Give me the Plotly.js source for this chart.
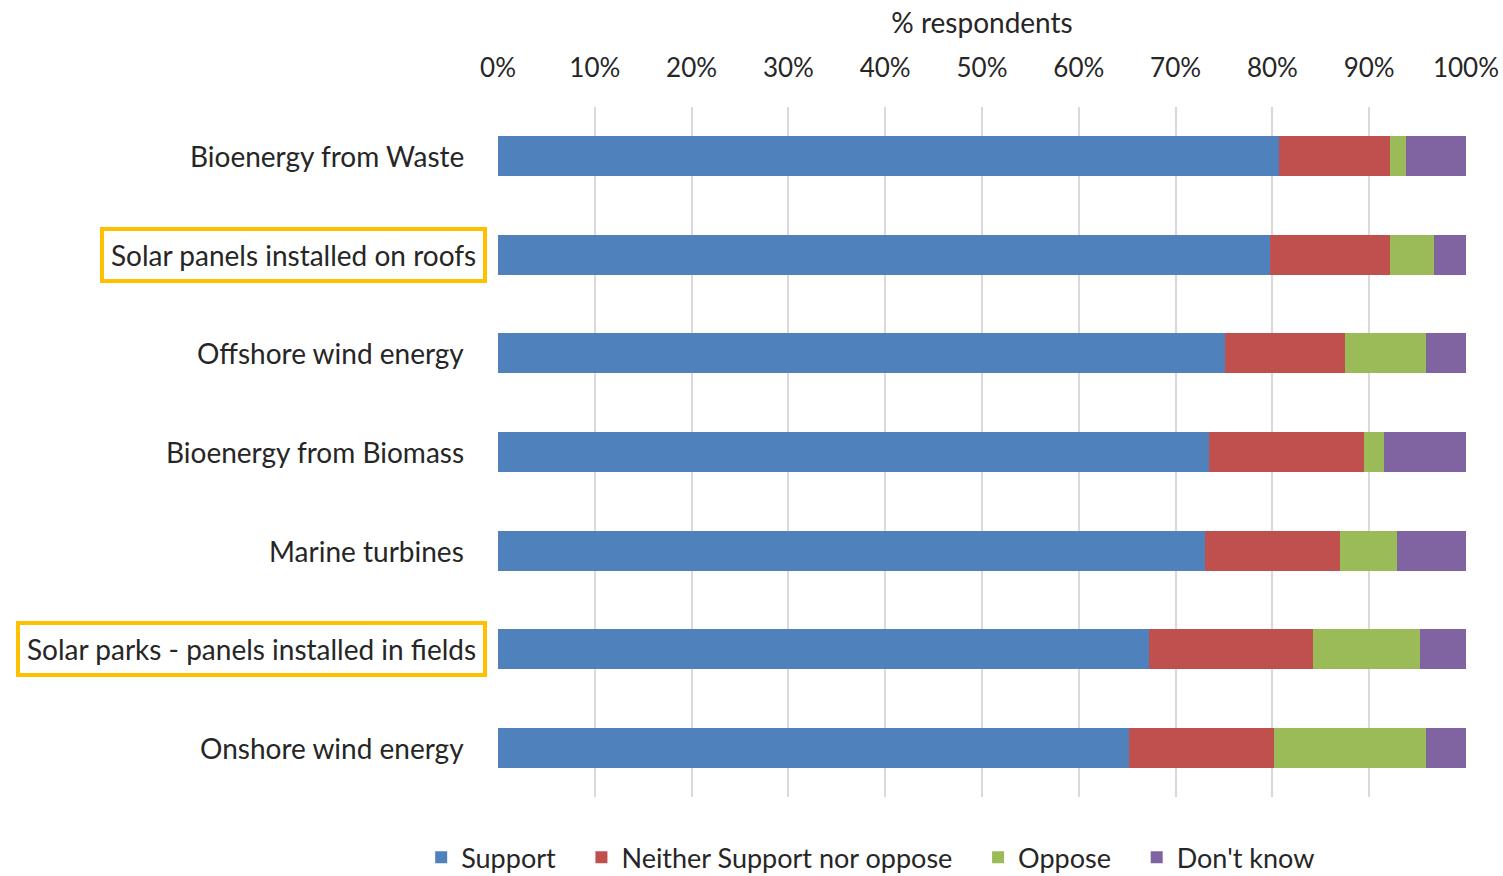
<!DOCTYPE html>
<html>
<head>
<meta charset="utf-8">
<script src="https://cdn.plot.ly/plotly-3.0.1.min.js"></script>
<style>html,body{margin:0;padding:0;background:#fff;}#chart{width:1503px;height:876px;}</style>
</head>
<body>
<div id="chart"></div>
<script>
const categories = [
  "Bioenergy from Waste",
  "Solar panels installed on roofs",
  "Offshore wind energy",
  "Bioenergy from Biomass",
  "Marine turbines",
  "Solar parks - panels installed in fields",
  "Onshore wind energy"
];
const highlighted = [false, true, false, false, false, true, false];
const seriesNames = ["Support", "Neither Support nor oppose", "Oppose", "Don't know"];
const support = [80.7, 79.7, 75.1, 73.5, 73.0, 67.2, 65.2];
const neither = [11.4, 12.4, 12.4, 16.0, 14.0, 17.0, 15.0];
const oppose  = [1.65, 4.6, 8.4, 2.0, 5.9, 11.0, 15.7];
const dontKnow = [6.25, 3.3, 4.1, 8.5, 7.1, 4.8, 4.1];
const xTickVals = [0,10,20,30,40,50,60,70,80,90,100];
const xTickText = xTickVals.map(v => v + "%");

const colors = ["#4F81BD", "#C0504D", "#9BBB59", "#8064A2"];
const seriesValues = [support, neither, oppose, dontKnow];
const FONT = "Lato, 'Open Sans', sans-serif";
const TXT = "#262626";
const PAD = "\u00A0\u00A0\u00A0";

const traces = seriesValues.map((vals, i) => ({
  type: "bar",
  orientation: "h",
  name: seriesNames[i] + (i < seriesNames.length - 1 ? PAD : ""),
  x: vals,
  y: categories,
  marker: {color: colors[i], line: {width: 0}},
  hoverinfo: "x+name"
}));

const annotations = categories.map((c, i) => {
  const a = {
    xref: "paper", yref: "y", y: c,
    text: c, showarrow: false,
    xanchor: "right", yanchor: "middle",
    font: {family: FONT, size: 28, color: TXT}
  };
  if (highlighted[i]) {
    a.x = -0.0114;
    a.bordercolor = "#FFC000";
    a.borderwidth = 4;
    a.borderpad = 7;
    a.bgcolor = "#ffffff";
  } else {
    a.x = -0.033;
  }
  return a;
});

const layout = {
  width: 1503, height: 876,
  margin: {l: 498, r: 37, t: 107, b: 79, autoexpand: false},
  paper_bgcolor: "#ffffff", plot_bgcolor: "#ffffff",
  barmode: "stack",
  bargap: 0.595,
  font: {family: FONT, color: TXT},
  xaxis: {
    side: "top",
    range: [0, 100],
    tickvals: xTickVals,
    ticktext: xTickText,
    tickfont: {family: FONT, size: 26, color: TXT},
    showgrid: true, gridcolor: "#D9D9D9", gridwidth: 2,
    zeroline: false, showline: false, ticks: "",
    ticklabelstandoff: 24,
    automargin: false,
    title: {text: "% respondents", font: {family: FONT, size: 28, color: TXT}, standoff: 8},
    fixedrange: true
  },
  yaxis: {
    autorange: "reversed",
    showticklabels: false,
    showgrid: false, zeroline: false, showline: false, ticks: "",
    automargin: false,
    fixedrange: true
  },
  legend: {
    orientation: "h",
    x: 0.385, xanchor: "center",
    y: -0.088, yanchor: "middle",
    traceorder: "normal",
    font: {family: FONT, size: 27, color: TXT},
    itemwidth: 30
  },
  annotations: annotations,
  showlegend: true
};

Plotly.newPlot("chart", traces, layout, {displayModeBar: false, staticPlot: true});
</script>
</body>
</html>
